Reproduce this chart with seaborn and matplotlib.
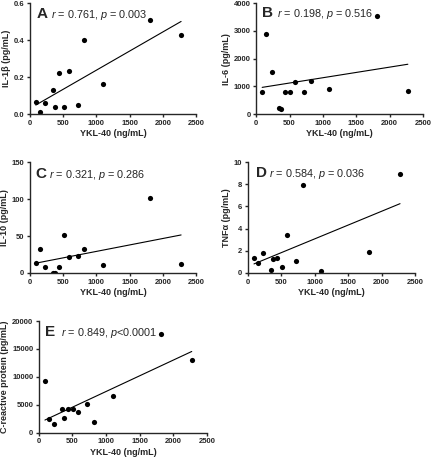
import numpy as np
import pandas as pd
import matplotlib
matplotlib.use("Agg")
import matplotlib.pyplot as plt
import seaborn as sns

# YKL-40 per patient (shared x for all panels)
ykl40 = [90, 150, 231, 346, 376, 432, 507, 582, 723, 818, 1099, 1812, 2274]

il1b = [0.067, 0.009, 0.061, 0.13, 0.04, 0.22, 0.04, 0.233, 0.047, 0.40, 0.165, 0.508, 0.427]
il6 = [795, 2904, 1506, 205, 181, 807, 807, 1169, 807, 1193, 904, 3554, 843]
il10 = [13.6, 32, 8, 0.5, 0.0, 8, 51, 21.7, 23.6, 32.6, 11.3, 102, 12.7]
tnfa = [1.36, 0.94, 1.84, 0.3, 1.27, 1.39, 0.57, 3.41, 1.12, 7.98, 0.21, 1.9, 8.91]
crp = [9194, 2448, 1552, 4239, 2567, 4179, 4179, 3642, 5075, 1851, 6507, 17672, 13075]

panel_letters = ["A", "B", "C", "D", "E"]
stats_text = [
    r"$\it{r}$ = 0.761, $\it{p}$ = 0.003",
    r"$\it{r}$ = 0.198, $\it{p}$ = 0.516",
    r"$\it{r}$ = 0.321, $\it{p}$ = 0.286",
    r"$\it{r}$ = 0.584, $\it{p}$ = 0.036",
    r"$\it{r}$ = 0.849, $\it{p}$<0.0001",
]
y_labels = ["IL-1β (pg/mL)", "IL-6 (pg/mL)", "IL-10 (pg/mL)", "TNFα (pg/mL)", "C-reactive protein (pg/mL)"]
y_ticks = [
    [0.0, 0.2, 0.4, 0.6],
    [0, 1000, 2000, 3000, 4000],
    [0, 50, 100, 150],
    [0, 2, 4, 6, 8, 10],
    [0, 5000, 10000, 15000, 20000],
]
y_fmt = ["{:.1f}", "{:.0f}", "{:.0f}", "{:.0f}", "{:.0f}"]
x_ticks = [0, 500, 1000, 1500, 2000, 2500]

sns.set_style("ticks")
plt.rcParams["font.family"] = ["Liberation Sans", "DejaVu Sans"]
plt.rcParams["mathtext.fontset"] = "custom"
plt.rcParams["mathtext.rm"] = "Liberation Sans"
plt.rcParams["mathtext.it"] = "Liberation Sans:italic"

fig = plt.figure(figsize=(4.32, 4.58), dpi=100)

# axes boxes [left, bottom, width, height] in figure fractions
boxes = [
    [0.069, 0.751, 0.385, 0.242],
    [0.593, 0.751, 0.386, 0.242],
    [0.069, 0.404, 0.385, 0.242],
    [0.574, 0.404, 0.387, 0.242],
    [0.090, 0.055, 0.389, 0.244],
]
letter_x = [0.04, 0.036, 0.036, 0.048, 0.036]
stat_x = [0.125, 0.125, 0.113, 0.125, 0.13]
text_y = [0.865, 0.875, 0.856, 0.865, 0.866]

series = [il1b, il6, il10, tnfa, crp]

for i, vals in enumerate(series):
    ax = fig.add_axes(boxes[i])
    df = pd.DataFrame({"x": ykl40, "y": vals})
    sns.regplot(data=df, x="x", y="y", ax=ax, ci=None,
                scatter_kws={"s": 14, "color": "black", "linewidths": 0, "alpha": 1},
                line_kws={"color": "black", "linewidth": 0.8})
    ax.set_xlim(0, 2500)
    ax.set_ylim(y_ticks[i][0], y_ticks[i][-1])
    ax.set_xticks(x_ticks)
    ax.set_xticklabels([str(t) for t in x_ticks], fontsize=5.5, fontweight="bold")
    ax.set_yticks(y_ticks[i])
    ax.set_yticklabels([y_fmt[i].format(t) for t in y_ticks[i]], fontsize=5.5, fontweight="bold")
    ax.set_xlabel("YKL-40 (ng/mL)", fontsize=6.5, fontweight="bold", labelpad=2)
    ax.set_ylabel(y_labels[i], fontsize=6.5, fontweight="bold", labelpad=2)
    sns.despine(ax=ax)
    for s in ["left", "bottom"]:
        ax.spines[s].set_linewidth(1.0)
    ax.tick_params(length=2.5, width=1.0, pad=1.5)
    ax.text(letter_x[i], text_y[i], panel_letters[i], transform=ax.transAxes,
            fontsize=11, fontweight="bold", va="baseline", ha="left")
    ax.text(stat_x[i], text_y[i], stats_text[i], transform=ax.transAxes,
            fontsize=7.8, va="baseline", ha="left")

fig.savefig("out.png", dpi=100)
